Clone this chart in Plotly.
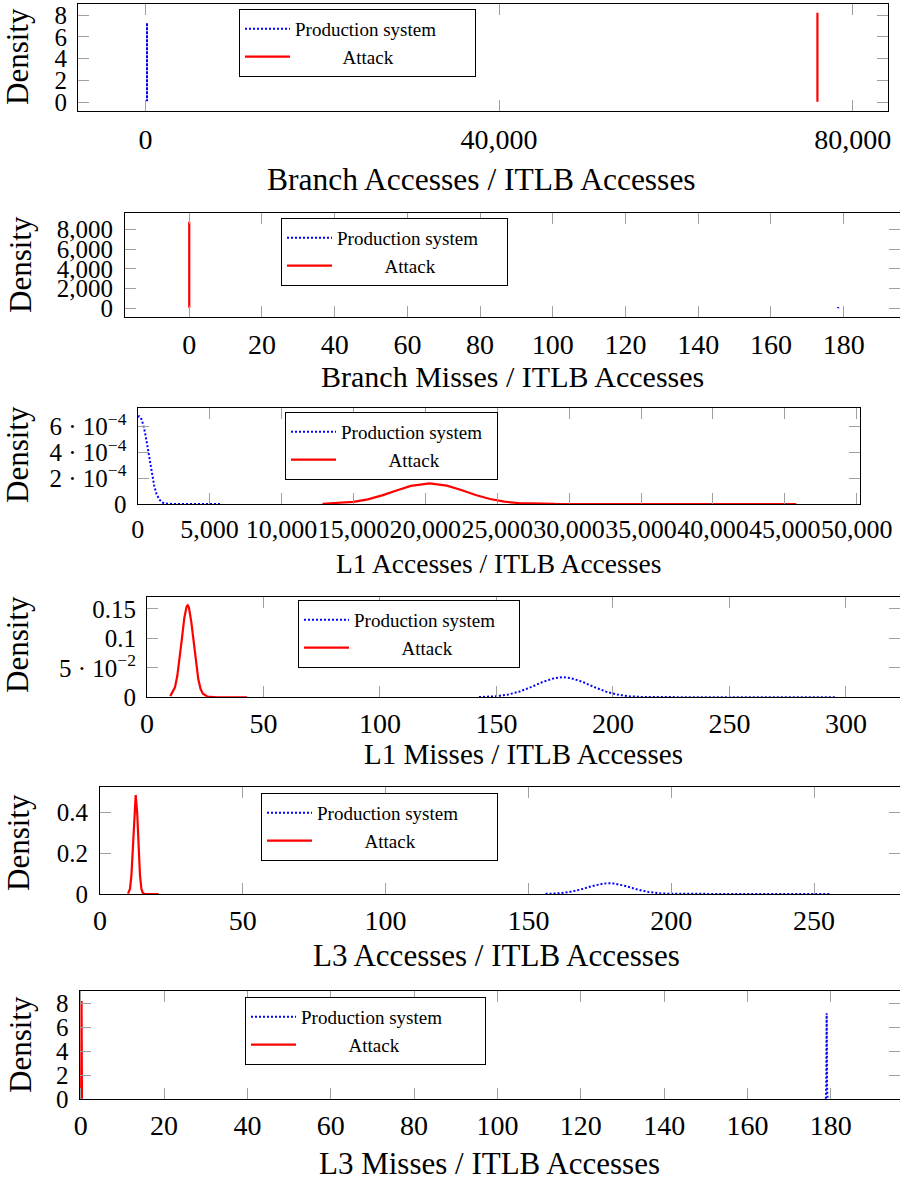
import plotly.graph_objects as go

FONT = "Liberation Serif"
W, H = 900, 1184

# ---------------- data (kernel density curves) ----------------
# Panel 1: Branch Accesses / ITLB Accesses
p1_prod_x = [179.8, 179.9, 179.95, 180.0, 180.05, 180.1, 180.2]
p1_prod_y = [0.1, 1.0, 4.4, 7.3, 4.4, 1.0, 0.1]
p1_att_x = [75999.8, 75999.9, 75999.95, 76000.0, 76000.05, 76000.1, 76000.2]
p1_att_y = [0.05, 1.1, 4.9, 8.22, 4.9, 1.1, 0.05]

# Panel 2: Branch Misses / ITLB Accesses
p2_prod_x = [178.49, 178.495, 178.5, 178.505, 178.51]
p2_prod_y = [0, 40, 120, 40, 0]
p2_att_x = [-0.0002, -0.0001, -0.00005, 0.0, 0.00005, 0.0001, 0.0002]
p2_att_y = [50, 1100, 5300, 8770, 5300, 1100, 50]

# Panel 3: L1 Accesses / ITLB Accesses
p3_prod_x = [0, 100, 250, 400, 550, 700, 850, 1000, 1150, 1300, 1500, 1700, 1900, 2200, 3000, 4000, 5000, 5800]
p3_prod_y = [6.75e-4, 6.80e-4, 6.6e-4, 6.1e-4, 5.3e-4, 4.3e-4, 3.2e-4, 2.2e-4, 1.4e-4, 0.8e-4,
             0.35e-4, 0.12e-4, 0.04e-4, 0.01e-4, 0, 0, 0, 0]
p3_att_x = [12850, 14000, 15000, 16000, 17000, 18000, 19000, 20300, 21500, 22500, 23500, 24500,
            25500, 26500, 27500, 29000, 32000, 36000, 40000, 45800]
p3_att_y = [0.02e-4, 0.07e-4, 0.17e-4, 0.36e-4, 0.67e-4, 1.05e-4, 1.40e-4, 1.60e-4, 1.42e-4, 1.08e-4,
            0.70e-4, 0.39e-4, 0.18e-4, 0.07e-4, 0.025e-4, 0.003e-4, 0, 0, 0, 0]

# Panel 4: L1 Misses / ITLB Accesses
p4_prod_x = [142.5, 150, 155, 160, 165, 170, 175, 178.5, 182, 187, 192, 197, 202, 207, 212, 220, 240, 270, 296]
p4_prod_y = [0.0003, 0.0018, 0.0046, 0.0099, 0.0176, 0.0263, 0.0326, 0.034, 0.0324, 0.026, 0.0173,
             0.0096, 0.0045, 0.0017, 0.0006, 0.0001, 0, 0, 0]
p4_att_x = [10, 12, 13, 14, 15, 16, 17, 17.5, 18, 19, 20, 21, 22, 23, 24, 26, 30, 36, 43]
p4_att_y = [0.002, 0.017, 0.036, 0.065, 0.10, 0.134, 0.154, 0.156, 0.152, 0.128, 0.093, 0.058,
            0.031, 0.014, 0.006, 0.001, 0, 0, 0]

# Panel 5: L3 Accesses / ITLB Accesses
p5_prod_x = [156, 160, 164, 168, 172, 176, 178, 180, 184, 188, 192, 196, 200, 210, 230, 256]
p5_prod_y = [0.0007, 0.0028, 0.0088, 0.021, 0.0376, 0.0508, 0.053, 0.0515, 0.0393, 0.0226, 0.0098,
             0.0032, 0.0008, 0, 0, 0]
p5_att_x = [9.8, 10.5, 11, 11.5, 12, 12.5, 13, 13.5, 14, 14.5, 15, 15.5, 17, 20.5]
p5_att_y = [0.002, 0.025, 0.091, 0.231, 0.404, 0.486, 0.404, 0.231, 0.091, 0.025, 0.005, 0.001, 0, 0]

# Panel 6: L3 Misses / ITLB Accesses
p6_prod_x = [178.8, 178.9, 178.95, 179.0, 179.05, 179.1, 179.2]
p6_prod_y = [0.05, 1.0, 4.3, 7.17, 4.3, 1.0, 0.05]
p6_att_x = [0.1, 0.15, 0.18, 0.2, 0.22, 0.25, 0.3]
p6_att_y = [0.05, 1.1, 4.9, 8.2, 4.9, 1.1, 0.05]

series_names = ["Production system", "Attack"]
x_titles = ["Branch Accesses / ITLB Accesses", "Branch Misses / ITLB Accesses",
            "L1 Accesses / ITLB Accesses", "L1 Misses / ITLB Accesses",
            "L3 Accesses / ITLB Accesses", "L3 Misses / ITLB Accesses"]
y_title = "Density"

# tick values / labels
p1_xticks = [0, 40000, 80000]
p1_xlabels = ["0", "40,000", "80,000"]
p1_yticks = [0, 2, 4, 6, 8]
p1_ylabels = ["0", "2", "4", "6", "8"]
p2_xticks = [0, 20, 40, 60, 80, 100, 120, 140, 160, 180]
p2_xlabels = ["0", "20", "40", "60", "80", "100", "120", "140", "160", "180"]
p2_yticks = [0, 2000, 4000, 6000, 8000]
p2_ylabels = ["0", "2,000", "4,000", "6,000", "8,000"]
p3_xticks = [0, 5000, 10000, 15000, 20000, 25000, 30000, 35000, 40000, 45000, 50000]
p3_xlabels = ["0", "5,000", "10,000", "15,000", "20,000", "25,000", "30,000", "35,000",
              "40,000", "45,000", "50,000"]
p3_yticks = [0, 2e-4, 4e-4, 6e-4]
p3_ylabels = ["0", "2 · 10<sup>−4</sup>", "4 · 10<sup>−4</sup>", "6 · 10<sup>−4</sup>"]
p4_xticks = [0, 50, 100, 150, 200, 250, 300]
p4_xlabels = ["0", "50", "100", "150", "200", "250", "300"]
p4_yticks = [0, 0.05, 0.1, 0.15]
p4_ylabels = ["0", "5 · 10<sup>−2</sup>", "0.1", "0.15"]
p5_xticks = [0, 50, 100, 150, 200, 250]
p5_xlabels = ["0", "50", "100", "150", "200", "250"]
p5_yticks = [0, 0.2, 0.4]
p5_ylabels = ["0", "0.2", "0.4"]
p6_xticks = [0, 20, 40, 60, 80, 100, 120, 140, 160, 180]
p6_xlabels = ["0", "20", "40", "60", "80", "100", "120", "140", "160", "180"]
p6_yticks = [0, 2, 4, 6, 8]
p6_ylabels = ["0", "2", "4", "6", "8"]

# ---------------- layout geometry (pixels) ----------------
panels = [
    dict(box=(78, 888, 3.5, 111), xr=(-7622, 83980), yr=(-0.80, 9.06), leg=(239, 9),
         xs=3, ys=5, xf=28, tf=31.5, pad=7),
    dict(box=(125, 900, 213.3, 316.7), xr=(-17.67, 195.5), yr=(-851, 9620), leg=(281, 218),
         xs=3, ys=6, xf=28, tf=30, pad=5),
    dict(box=(137.5, 860, 408.3, 504), xr=(-14, 50230), yr=(0, 7.42e-4), leg=(285, 412),
         xs=2, ys=5, xf=26, tf=27.5, pad=2),
    dict(box=(147, 900, 597, 697.3), xr=(0, 323.2), yr=(0, 0.17), leg=(298, 600),
         xs=1, ys=5, xf=28, tf=29, pad=4),
    dict(box=(100, 900, 787, 894), xr=(0, 280.1), yr=(0, 0.526), leg=(261, 793),
         xs=1, ys=6, xf=28, tf=31, pad=7),
    dict(box=(79.5, 900, 990.7, 1099.3), xr=(-0.29, 196.6), yr=(0, 9.05), leg=(245, 997),
         xs=1, ys=5, xf=28, tf=31, pad=8),
]
title_pos = [(481, 180), (512, 376), (499, 563), (523, 754), (497, 955), (490, 1163)]
dens_pos = [(18, 57), (20, 265), (17, 455), (17, 645), (18, 843), (20, 1045)]

data = [
    (p1_prod_x, p1_prod_y, p1_att_x, p1_att_y, p1_xticks, p1_xlabels, p1_yticks, p1_ylabels),
    (p2_prod_x, p2_prod_y, p2_att_x, p2_att_y, p2_xticks, p2_xlabels, p2_yticks, p2_ylabels),
    (p3_prod_x, p3_prod_y, p3_att_x, p3_att_y, p3_xticks, p3_xlabels, p3_yticks, p3_ylabels),
    (p4_prod_x, p4_prod_y, p4_att_x, p4_att_y, p4_xticks, p4_xlabels, p4_yticks, p4_ylabels),
    (p5_prod_x, p5_prod_y, p5_att_x, p5_att_y, p5_xticks, p5_xlabels, p5_yticks, p5_ylabels),
    (p6_prod_x, p6_prod_y, p6_att_x, p6_att_y, p6_xticks, p6_xlabels, p6_yticks, p6_ylabels),
]

fig = go.Figure()
layout = dict(width=W, height=H, margin=dict(l=0, r=0, t=0, b=0, autoexpand=False),
              paper_bgcolor="white", plot_bgcolor="white", showlegend=True,
              font=dict(family=FONT, color="black"))
annotations = []

ATTACK_LABEL = "\u00a0" * 10 + series_names[1]

for i, (pan, d) in enumerate(zip(panels, data)):
    n = i + 1
    sx = "" if n == 1 else str(n)
    xa, ya = "x" + sx, "y" + sx
    leg = "legend" + sx
    px_x, px_y, at_x, at_y, xt, xl, yt, yl = d
    fig.add_trace(go.Scatter(x=px_x, y=px_y, mode="lines",
                             name=series_names[0] + "\u00a0" * pan["pad"],
                             line=dict(color="#0000ff", width=2, dash="2px,2px"),
                             xaxis=xa, yaxis=ya, legend=leg, legendgroup=f"p{n}a"))
    fig.add_trace(go.Scatter(x=at_x, y=at_y, mode="lines", name=ATTACK_LABEL,
                             line=dict(color="#ff0000", width=2.2),
                             xaxis=xa, yaxis=ya, legend=leg, legendgroup=f"p{n}b"))
    l, r, t, b = pan["box"]
    common = dict(ticks="inside", ticklen=11, tickcolor="#a0a0a0", tickwidth=1.3,
                  showline=True, linecolor="black", linewidth=1.2, mirror="ticks",
                  showgrid=False, zeroline=False, tickmode="array", tickangle=0,
                  automargin=False)
    layout["xaxis" + sx] = dict(common, domain=[l / W, r / W], range=list(pan["xr"]),
                                tickvals=xt, ticktext=xl, anchor=ya,
                                tickfont=dict(family=FONT, size=pan["xf"], color="black"),
                                ticklabelstandoff=pan["xs"])
    layout["yaxis" + sx] = dict(common, domain=[1 - b / H, 1 - t / H], range=list(pan["yr"]),
                                tickvals=yt, ticktext=yl, anchor=xa,
                                tickfont=dict(family=FONT, size=25, color="black"),
                                ticklabelstandoff=pan["ys"])
    lx, ly = pan["leg"]
    layout[leg] = dict(x=lx / W, y=1 - ly / H, xanchor="left", yanchor="top",
                       bgcolor="white", bordercolor="black", borderwidth=1,
                       font=dict(family=FONT, size=19, color="black"),
                       itemwidth=45, tracegroupgap=0)
    tx, ty = title_pos[i]
    annotations.append(dict(text=x_titles[i], x=tx / W, y=1 - ty / H, xref="paper", yref="paper",
                            xanchor="center", yanchor="middle", showarrow=False,
                            font=dict(family=FONT, size=pan["tf"], color="black")))
    dx, dy = dens_pos[i]
    annotations.append(dict(text=y_title, x=dx / W, y=1 - dy / H, xref="paper", yref="paper",
                            xanchor="center", yanchor="middle", showarrow=False, textangle=-90,
                            font=dict(family=FONT, size=31, color="black")))

layout["annotations"] = annotations
fig.update_layout(**layout)
fig.write_html("out.html")
